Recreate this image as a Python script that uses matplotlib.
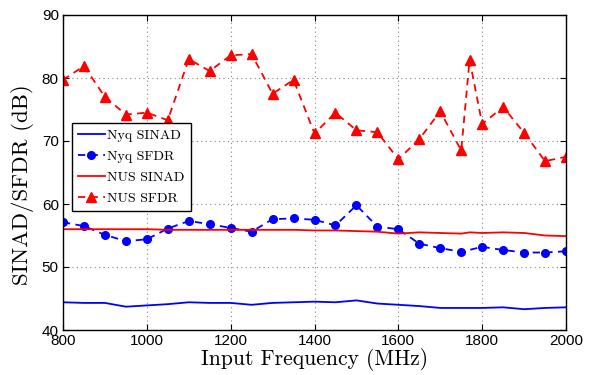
import matplotlib
matplotlib.use("Agg")
import matplotlib.pyplot as plt

# Frekvenser (MHz) och mätvärden (dB)
freq = [800, 850, 900, 950, 1000, 1050, 1100, 1150, 1200, 1250, 1300, 1350, 1400,
        1450, 1500, 1550, 1600, 1650, 1700, 1750, 1800, 1850, 1900, 1950, 2000]
nyq_sinad = [44.4, 44.3, 44.3, 43.7, 43.9, 44.1, 44.4, 44.3, 44.3, 44.0, 44.3, 44.4, 44.5,
             44.4, 44.7, 44.2, 44.0, 43.8, 43.5, 43.5, 43.5, 43.6, 43.3, 43.5, 43.6]
nyq_sfdr = [57.1, 56.5, 55.1, 54.1, 54.4, 56.1, 57.3, 56.8, 56.2, 55.6, 57.6, 57.7, 57.5,
            56.6, 59.8, 56.4, 56.0, 53.7, 53.0, 52.4, 53.2, 52.7, 52.3, 52.3, 52.5]

# NUS har en extra mätpunkt vid 1770 MHz
freq_nus = [800, 850, 900, 950, 1000, 1050, 1100, 1150, 1200, 1250, 1300, 1350, 1400,
            1450, 1500, 1550, 1600, 1650, 1700, 1750, 1770, 1800, 1850, 1900, 1950, 2000]
nus_sinad = [56.0, 56.0, 56.0, 56.0, 56.0, 55.9, 55.9, 55.9, 55.9, 55.9, 55.9, 55.9, 55.8,
             55.8, 55.7, 55.6, 55.3, 55.5, 55.4, 55.3, 55.5, 55.4, 55.5, 55.4, 55.0, 54.9]
nus_sfdr = [79.7, 81.9, 77.0, 74.2, 74.5, 73.3, 83.0, 81.1, 83.6, 83.8, 77.5, 79.7, 71.2,
            74.5, 71.7, 71.4, 67.1, 70.3, 74.7, 68.5, 82.9, 72.7, 75.4, 71.3, 66.8, 67.5]

fig = plt.figure(figsize=(5.92, 3.75), dpi=100)
ax = fig.add_axes([0.1064, 0.12, 0.8497, 0.84])

ax.plot(freq, nyq_sinad, color="blue", lw=1.3, label="Nyq SINAD")
ax.plot(freq, nyq_sfdr, color="blue", lw=1.3, ls=(0, (4, 3)), marker="o", ms=5.5,
        label="Nyq SFDR")
ax.plot(freq_nus, nus_sinad, color="red", lw=1.3, label="NUS SINAD")
ax.plot(freq_nus, nus_sfdr, color="red", lw=1.3, ls=(0, (4, 3)), marker="^", ms=6.5,
        label="NUS SFDR")

ax.set_xlim(800, 2000)
ax.set_ylim(40, 90)
ax.set_xticks(range(800, 2001, 200))
ax.set_yticks(range(40, 91, 10))
ax.tick_params(direction="in", top=True, right=True, labelsize=11, length=4, pad=3)
for lbl in ax.get_xticklabels() + ax.get_yticklabels():
    lbl.set_family("Liberation Sans")
ax.grid(True, color="#888888", ls=(0, (1, 3)), lw=0.8)
for s in ax.spines.values():
    s.set_linewidth(1.0)

ax.set_xlabel("Input Frequency (MHz)", fontfamily="cmr10", fontsize=15.5, labelpad=0)
ax.set_ylabel("SINAD/SFDR (dB)", fontfamily="cmr10", fontsize=16.5)
ax.yaxis.set_label_coords(-0.058, 0.463)

leg = ax.legend(loc="upper left", bbox_to_anchor=(0.018, 0.657), borderaxespad=0,
                prop={"family": "cmr10", "size": 10},
                frameon=True, fancybox=False, edgecolor="black", framealpha=1,
                handlelength=1.9, handletextpad=0.2, borderpad=0.45, labelspacing=0.6)
leg.get_frame().set_linewidth(1.0)

fig.savefig("out.png", dpi=100)
